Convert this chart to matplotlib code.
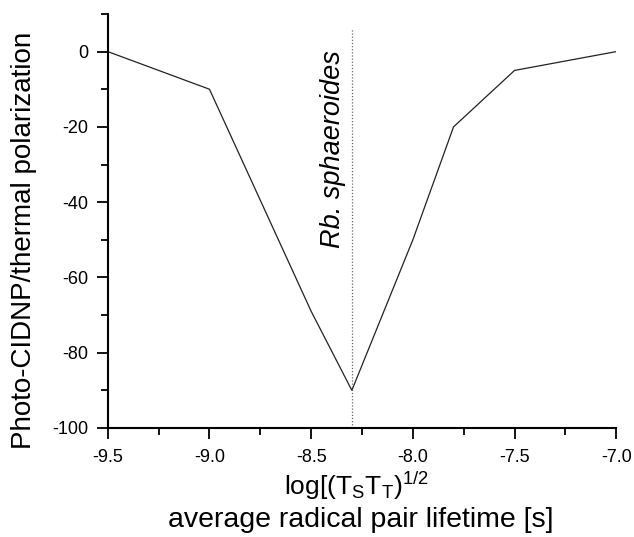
import numpy as np
from matplotlib import pyplot as plt
from matplotlib.ticker import MultipleLocator

plt.rcParams['font.family'] = ['Liberation Sans', 'DejaVu Sans']
plt.rcParams['mathtext.fontset'] = 'custom'
plt.rcParams['mathtext.rm'] = 'Liberation Sans'
plt.rcParams['mathtext.it'] = 'Liberation Sans:italic'
plt.rcParams['axes.unicode_minus'] = False

# lifetime (log) vs. photo-CIDNP enhancement
log_lifetime = [-9.5, -9.0, -8.5, -8.3, -8.0, -7.8, -7.5, -7.0]
polarization = [0, -10, -69, -90, -50, -20, -5, 0]

marker_x = -8.3
marker_label = 'Rb. sphaeroides'

fig = plt.figure(figsize=(6.34, 5.37), dpi=100)
ax = fig.add_axes([0.170, 0.203, 0.802, 0.771])

ax.plot(log_lifetime, polarization, color='#222222', lw=0.9)
ax.vlines(marker_x, -100, 6, colors='#666666', linestyles=(0, (1, 1.5)), lw=0.9)
ax.text(marker_x - 0.03, 0.5, marker_label, rotation=90, ha='right', va='top',
        fontsize=19.5, style='italic')

ax.set_xlim(-9.5, -7.0)
ax.set_ylim(-100, 10)
ax.xaxis.set_minor_locator(MultipleLocator(0.25))
ax.yaxis.set_minor_locator(MultipleLocator(10))
xt = np.arange(-9.5, -6.99, 0.5)
ax.set_xticks(xt)
ax.set_xticklabels(['%.1f' % v for v in xt])
ax.set_yticks(np.arange(-100, 1, 20))

for side in ['top', 'right']:
    ax.spines[side].set_visible(False)
for side in ['left', 'bottom']:
    ax.spines[side].set_linewidth(1.5)
ax.tick_params(which='both', direction='out', width=1.3, labelsize=13)
ax.tick_params(which='major', length=8)
ax.tick_params(which='minor', length=5)
ax.tick_params(axis='x', pad=7)
ax.tick_params(axis='y', pad=6)

ax.set_ylabel('Photo-CIDNP/thermal polarization', fontsize=20)
ax.yaxis.set_label_coords(-0.14, 0.454)
fig.text(0.562, 0.079, r'log[(T$_{\mathregular{S}}$T$_{\mathregular{T}}$)$^{\mathregular{1/2}}$',
         ha='center', va='baseline', fontsize=19)
fig.text(0.569, 0.019, 'average radical pair lifetime [s]',
         ha='center', va='baseline', fontsize=20.5)

fig.savefig('out.png', dpi=100)
